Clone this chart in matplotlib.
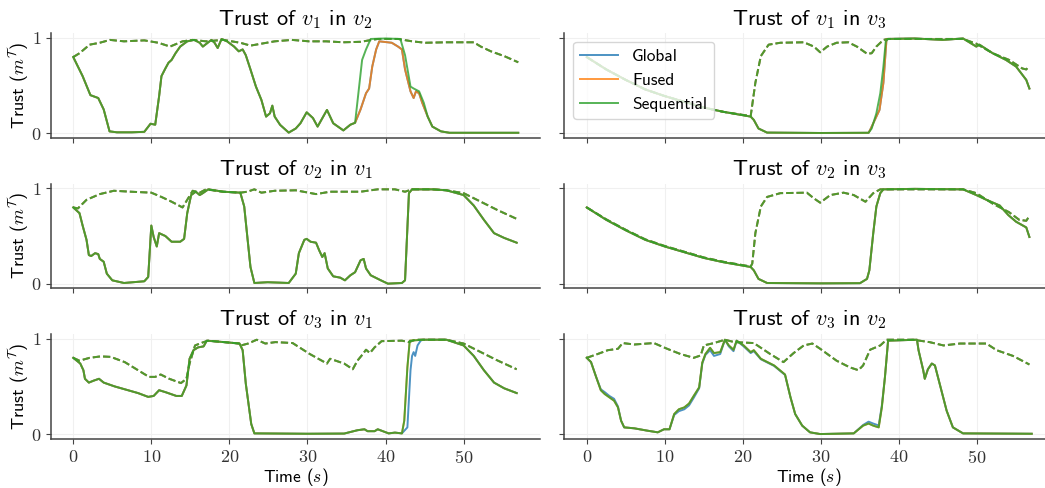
import matplotlib
matplotlib.use("Agg")
import matplotlib.pyplot as plt
from matplotlib.ticker import FuncFormatter

plt.rcParams["font.family"] = "cmss10"
plt.rcParams["mathtext.fontset"] = "cm"
plt.rcParams["axes.unicode_minus"] = False

SERIES = ["Global", "Fused", "Sequential"]
COLORS = ["#1f77b4", "#ff7f0e", "#2ca02c"]

# ---- trust of v1 in v2 ----
t12_head = [0, 1.2, 2.2, 3.2, 3.9, 4.65, 5.6, 7.5, 9.1, 9.9, 10.5, 11.0, 11.3, 11.8, 12.2,
            12.6, 13.1, 13.7, 14.6, 15.5, 16.2, 16.6, 17.3, 17.7, 18.1, 18.5, 19.0, 19.7,
            20.6, 21.2, 21.7, 22.1, 22.7, 23.4, 24.1, 24.7, 25.2, 25.5, 25.8, 26.5, 27.6,
            28.5, 29.1, 29.9, 30.7, 31.3, 32.5, 33.3, 34.6, 35.5, 36.1]
v12_head = [0.80, 0.60, 0.40, 0.37, 0.25, 0.02, 0.01, 0.01, 0.015, 0.10, 0.09, 0.39, 0.60,
            0.68, 0.74, 0.77, 0.84, 0.91, 0.965, 0.98, 0.95, 0.91, 0.955, 0.98, 0.95, 0.895,
            0.99, 0.965, 0.91, 0.86, 0.88, 0.82, 0.67, 0.49, 0.35, 0.175, 0.21, 0.29, 0.175,
            0.088, 0.007, 0.05, 0.105, 0.22, 0.16, 0.07, 0.245, 0.105, 0.03, 0.09, 0.11]
t12_seq_tail = [37.0, 37.5, 38.1, 40.0, 41.9, 42.5, 43.2, 43.6, 44.3, 44.9, 45.4, 46.0,
                47.1, 48.2, 52.0, 57.0]
v12_seq_tail = [0.77, 0.88, 0.99, 0.995, 0.99, 0.82, 0.49, 0.47, 0.44, 0.32, 0.175, 0.07,
                0.02, 0.005, 0.005, 0.005]
t12_gf_tail = [36.8, 37.5, 37.9, 38.3, 38.8, 39.2, 40.8, 41.6, 42.1, 42.5, 43.2, 43.6, 43.9,
               44.3, 44.7, 45.4, 46.0, 47.1, 48.2, 52.0, 57.0]
v12_gf_tail = [0.25, 0.42, 0.47, 0.70, 0.88, 0.965, 0.95, 0.91, 0.88, 0.67, 0.44, 0.37, 0.44,
               0.42, 0.32, 0.175, 0.07, 0.02, 0.005, 0.005, 0.005]
t12_dash = [0, 0.8, 2.1, 3.4, 4.7, 6.5, 9.1, 10.9, 12.4, 14.0, 15.3, 17.0, 19.2, 21.4, 22.7,
            25.8, 28.0, 30.2, 32.4, 34.6, 36.8, 39.0, 41.6, 43.4, 45.1, 47.8, 51.3, 52.2,
            53.5, 55.2, 57.0]
v12_dash = [0.80, 0.84, 0.93, 0.95, 0.98, 0.965, 0.975, 0.95, 0.91, 0.965, 0.98, 0.965, 0.98,
            0.95, 0.92, 0.965, 0.98, 0.965, 0.965, 0.955, 0.96, 0.99, 0.99, 0.965, 0.95,
            0.955, 0.955, 0.91, 0.86, 0.81, 0.745]

# ---- trust of v1 in v3 ----
t13_head = [0, 2.5, 5.0, 7.5, 10.0, 12.5, 15.0, 17.5, 21.0, 21.4, 22.0, 23.1, 30.0, 36.1]
v13_head = [0.80, 0.67, 0.56, 0.46, 0.39, 0.33, 0.27, 0.225, 0.175, 0.14, 0.05, 0.007, 0.003,
            0.005]
t13_seq_tail = [36.5, 37.1, 37.6, 38.0, 38.3, 38.6, 42.0, 45.6, 48.2, 49.9, 50.3, 52.0, 53.7,
                55.0, 56.3, 56.7]
v13_seq_tail = [0.05, 0.21, 0.42, 0.70, 0.965, 0.99, 0.995, 0.98, 0.995, 0.91, 0.93, 0.84,
                0.77, 0.70, 0.56, 0.47]
t13_gf_tail = [36.3, 36.9, 37.5, 38.0, 38.4, 42.0, 45.6, 48.2, 49.9, 50.3, 52.0, 53.7, 55.0,
               56.3, 56.7]
v13_gf_tail = [0.035, 0.14, 0.245, 0.53, 0.99, 0.995, 0.98, 0.995, 0.91, 0.93, 0.84, 0.77,
               0.70, 0.56, 0.47]
t13_dash = [0, 2.5, 5.0, 7.5, 10.0, 12.5, 15.0, 17.5, 21.0, 21.6, 22.3, 23.3, 24.8, 27.8,
            29.1, 29.9, 30.8, 32.0, 33.5, 34.6, 35.9, 36.5, 37.1, 38.0, 38.6, 48.2, 49.9,
            52.0, 54.1, 55.8, 56.3, 56.6]
v13_dash = [0.80, 0.67, 0.56, 0.46, 0.39, 0.33, 0.27, 0.225, 0.18, 0.53, 0.81, 0.93, 0.95,
            0.955, 0.91, 0.85, 0.91, 0.95, 0.955, 0.91, 0.835, 0.84, 0.91, 0.98, 0.99, 0.99,
            0.94, 0.84, 0.77, 0.68, 0.67, 0.70]

# ---- trust of v2 in v1 ----
t21 = [0, 0.8, 1.2, 1.7, 2.0, 2.3, 2.8, 3.2, 3.4, 3.9, 4.3, 5.0, 6.5, 9.1, 9.6, 10.0, 10.3,
       10.7, 11.0, 11.8, 12.6, 13.7, 14.2, 14.6, 15.1, 15.7, 16.2, 16.6, 17.3, 19.2, 21.4,
       21.9, 22.3, 22.7, 23.2, 24.9, 27.6, 28.5, 28.9, 29.6, 29.9, 30.4, 31.1, 31.5, 31.9,
       32.2, 32.6, 33.3, 34.2, 34.8, 35.5, 36.1, 36.8, 37.2, 37.5, 38.1, 39.4, 40.3, 42.1,
       42.5, 43.0, 43.4, 46.0, 47.8, 50.0, 51.3, 52.6, 53.9, 55.2, 56.8]
v21 = [0.80, 0.74, 0.61, 0.46, 0.30, 0.29, 0.32, 0.31, 0.26, 0.23, 0.105, 0.035, 0.007, 0.025,
       0.07, 0.61, 0.49, 0.39, 0.53, 0.50, 0.44, 0.44, 0.47, 0.74, 0.93, 0.965, 0.93, 0.95,
       0.99, 0.965, 0.955, 0.81, 0.49, 0.175, 0.007, 0.015, 0.007, 0.105, 0.32, 0.46, 0.47,
       0.44, 0.43, 0.35, 0.28, 0.32, 0.16, 0.077, 0.063, 0.035, 0.088, 0.12, 0.245, 0.26,
       0.16, 0.088, 0.035, 0.0, 0.007, 0.035, 0.95, 0.99, 0.99, 0.98, 0.93, 0.82, 0.67, 0.53,
       0.48, 0.43]
t21_dash = [0, 0.6, 1.7, 3.4, 5.2, 7.4, 10.0, 11.3, 12.6, 14.0, 14.6, 15.3, 16.2, 17.0, 19.2,
            21.4, 22.3, 23.2, 24.1, 25.8, 28.5, 31.1, 32.9, 36.8, 39.0, 41.2, 42.5, 43.4,
            46.0, 47.8, 50.0, 52.2, 54.4, 56.8]
v21_dash = [0.80, 0.79, 0.88, 0.94, 0.975, 0.965, 0.955, 0.91, 0.86, 0.80, 0.88, 0.975, 0.955,
            0.99, 0.965, 0.955, 0.965, 0.99, 0.955, 0.975, 0.98, 0.94, 0.965, 0.965, 0.99,
            0.99, 0.965, 0.99, 0.99, 0.98, 0.95, 0.86, 0.77, 0.68]

# ---- trust of v2 in v3 ----
t23 = [0, 2.5, 5.0, 7.5, 10.0, 12.5, 15.0, 17.5, 21.0, 21.4, 22.0, 23.1, 30.0, 35.0, 35.9,
       36.2, 36.7, 37.1, 37.6, 38.0, 42.0, 48.2, 49.9, 51.2, 52.9, 54.0, 55.0, 56.3, 56.7]
v23 = [0.80, 0.67, 0.56, 0.46, 0.39, 0.33, 0.27, 0.225, 0.175, 0.14, 0.05, 0.007, 0.003,
       0.005, 0.05, 0.14, 0.53, 0.81, 0.95, 0.99, 0.995, 0.99, 0.93, 0.88, 0.82, 0.72, 0.65,
       0.59, 0.49]
t23_dash = [0, 2.5, 5.0, 7.5, 10.0, 12.5, 15.0, 17.5, 21.0, 21.2, 21.6, 22.3, 23.1, 24.8,
            28.2, 29.1, 29.9, 31.2, 32.9, 34.2, 35.7, 36.7, 37.6, 48.2, 49.9, 52.0, 54.1,
            55.4, 56.3, 56.7]
v23_dash = [0.80, 0.675, 0.565, 0.465, 0.395, 0.335, 0.275, 0.23, 0.18, 0.21, 0.53, 0.81,
            0.91, 0.95, 0.955, 0.895, 0.85, 0.93, 0.955, 0.93, 0.86, 0.95, 0.99, 0.99, 0.95,
            0.84, 0.75, 0.67, 0.66, 0.71]

# ---- trust of v3 in v1 ----
t31_head = [0, 0.9, 1.3, 1.5, 2.0, 2.6, 3.3, 3.9, 5.3, 8.3, 9.6, 10.3, 11.0, 11.8, 13.2, 13.9,
            14.5, 14.9, 15.4, 16.0, 16.7, 17.1, 19.3, 21.3, 21.7, 22.1, 22.8, 23.2, 30.0,
            34.7, 36.4, 37.3, 37.7, 38.6, 39.0, 40.4, 41.2, 42.1]
v31_head = [0.80, 0.74, 0.67, 0.58, 0.54, 0.56, 0.58, 0.54, 0.50, 0.43, 0.39, 0.40, 0.46,
            0.44, 0.40, 0.40, 0.51, 0.79, 0.88, 0.91, 0.92, 0.98, 0.965, 0.95, 0.88, 0.53,
            0.105, 0.007, 0.003, 0.005, 0.04, 0.05, 0.03, 0.03, 0.05, 0.007, 0.015, 0.007]
t31_seq_tail = [42.4, 42.8, 43.1, 44.8, 47.8, 50.0, 51.3, 52.6, 53.9, 55.2, 56.8]
v31_seq_tail = [0.14, 0.70, 0.98, 0.99, 0.99, 0.93, 0.82, 0.67, 0.54, 0.48, 0.43]
t31_glob_tail = [42.8, 43.2, 43.4, 43.6, 43.8, 44.1, 44.5, 44.8, 47.8, 50.0, 51.3, 52.6, 53.9,
                 55.2, 56.8]
v31_glob_tail = [0.07, 0.67, 0.82, 0.86, 0.82, 0.93, 0.98, 0.99, 0.99, 0.93, 0.82, 0.67, 0.54,
                 0.48, 0.43]
t31_dash = [0, 0.8, 2.1, 3.5, 4.8, 6.6, 8.3, 9.7, 10.5, 11.2, 12.3, 13.8, 14.5, 14.9, 15.6,
            16.7, 17.3, 21.3, 21.5, 22.4, 23.5, 24.6, 25.9, 28.1, 30.3, 32.5, 32.9, 34.7,
            35.8, 36.4, 37.1, 37.5, 38.0, 38.6, 39.5, 42.1, 43.0, 43.8, 47.8, 50.0, 52.2,
            54.4, 56.8]
v31_dash = [0.80, 0.77, 0.80, 0.815, 0.81, 0.755, 0.67, 0.60, 0.60, 0.625, 0.58, 0.535, 0.58,
            0.74, 0.93, 0.965, 0.98, 0.95, 0.93, 0.95, 0.99, 0.95, 0.965, 0.955, 0.84, 0.74,
            0.79, 0.74, 0.68, 0.77, 0.84, 0.885, 0.85, 0.91, 0.975, 0.98, 0.965, 0.99, 0.99,
            0.95, 0.86, 0.77, 0.68]

# ---- trust of v3 in v2 ----
t32 = [0, 0.55, 1.2, 1.8, 2.3, 2.9, 3.5, 4.0, 4.4, 4.8, 6.1, 7.8, 9.1, 9.9, 10.6, 11.2, 11.8,
       12.5, 13.1, 13.7, 14.4, 14.8, 15.2, 15.8, 16.3, 17.1, 17.7, 18.2, 18.8, 19.2, 20.1,
       21.0, 21.4, 22.3, 24.0, 25.4, 26.1, 26.7, 27.6, 28.6, 29.9, 34.2, 35.4, 36.1, 36.7,
       37.4, 37.8, 38.2, 38.6, 42.3, 42.5, 43.1, 43.3, 43.7, 44.2, 44.6, 45.2, 46.1, 46.9,
       48.2, 57.0]
v32_seq = [0.80, 0.755, 0.60, 0.46, 0.42, 0.385, 0.35, 0.28, 0.14, 0.07, 0.06, 0.035, 0.018,
           0.05, 0.05, 0.21, 0.26, 0.28, 0.32, 0.40, 0.49, 0.75, 0.84, 0.905, 0.85, 0.86, 0.99,
           0.93, 0.885, 0.98, 0.93, 0.86, 0.88, 0.79, 0.72, 0.625, 0.385, 0.21, 0.088, 0.018,
           0.0, 0.007, 0.088, 0.11, 0.088, 0.07, 0.28, 0.60, 0.98, 0.99, 0.88, 0.67, 0.58, 0.68,
           0.74, 0.72, 0.53, 0.245, 0.07, 0.007, 0.003]
v32_glob = [0.80, 0.755, 0.60, 0.47, 0.44, 0.40, 0.37, 0.29, 0.14, 0.07, 0.06, 0.035, 0.018,
            0.05, 0.05, 0.20, 0.24, 0.26, 0.30, 0.38, 0.48, 0.74, 0.83, 0.88, 0.82, 0.84, 0.99,
            0.92, 0.87, 0.98, 0.92, 0.85, 0.87, 0.785, 0.715, 0.62, 0.385, 0.21, 0.088, 0.018,
            0.0, 0.007, 0.095, 0.13, 0.11, 0.09, 0.30, 0.60, 0.98, 0.99, 0.88, 0.67, 0.58, 0.68,
            0.74, 0.72, 0.53, 0.245, 0.07, 0.007, 0.003]
t32_dash = [0, 1.4, 2.7, 4.0, 4.6, 6.1, 8.6, 10.3, 12.0, 13.7, 14.6, 15.0, 16.3, 17.7, 18.9,
            21.4, 23.5, 25.2, 26.5, 27.8, 28.9, 29.9, 32.0, 33.7, 34.8, 35.4, 36.3, 37.6, 38.4,
            41.8, 43.9, 45.7, 47.8, 51.2, 52.5, 54.6, 56.7]
v32_dash = [0.80, 0.84, 0.88, 0.895, 0.955, 0.94, 0.955, 0.895, 0.84, 0.80, 0.825, 0.93, 0.955,
            0.99, 0.965, 0.955, 0.84, 0.755, 0.85, 0.93, 0.95, 0.895, 0.77, 0.70, 0.67, 0.72,
            0.885, 0.93, 0.99, 0.99, 0.965, 0.93, 0.95, 0.95, 0.88, 0.82, 0.73]

# per panel: title, solid (t, v) for Global / Fused / Sequential, dashed (t, v)
s12_gf = (t12_head + t12_gf_tail, v12_head + v12_gf_tail)
s12_seq = (t12_head + t12_seq_tail, v12_head + v12_seq_tail)
s13_gf = (t13_head + t13_gf_tail, v13_head + v13_gf_tail)
s13_seq = (t13_head + t13_seq_tail, v13_head + v13_seq_tail)
s31_glob = (t31_head + t31_glob_tail, v31_head + v31_glob_tail)
s31_seq = (t31_head + t31_seq_tail, v31_head + v31_seq_tail)

panels = [
    (r"Trust of $v_1$ in $v_2$", [s12_gf, s12_gf, s12_seq], (t12_dash, v12_dash)),
    (r"Trust of $v_1$ in $v_3$", [s13_gf, s13_gf, s13_seq], (t13_dash, v13_dash)),
    (r"Trust of $v_2$ in $v_1$", [(t21, v21)] * 3, (t21_dash, v21_dash)),
    (r"Trust of $v_2$ in $v_3$", [(t23, v23)] * 3, (t23_dash, v23_dash)),
    (r"Trust of $v_3$ in $v_1$", [s31_glob, s31_seq, s31_seq], (t31_dash, v31_dash)),
    (r"Trust of $v_3$ in $v_2$", [(t32, v32_glob), (t32, v32_seq), (t32, v32_seq)],
     (t32_dash, v32_dash)),
]

fig, axs = plt.subplots(3, 2, sharex=True, sharey=True, figsize=(10.45, 4.88), dpi=100)
fig.subplots_adjust(left=0.0488, right=1.0086, top=0.9319, bottom=0.1008,
                    wspace=0.049, hspace=0.435)

math_fmt = FuncFormatter(lambda x, _: r"$\mathrm{%d}$" % round(x))

for ax, (title, solids, dashed) in zip(axs.flat, panels):
    for name, color, (t, v) in zip(SERIES, COLORS, solids):
        ax.plot(t, v, color=color, lw=1.4, alpha=0.8, label=name)
        ax.plot(dashed[0], dashed[1], color=color, lw=1.4, alpha=0.8, ls="--")
    ax.set_title(title, fontsize=16, pad=6)
    ax.grid(True, color="#f0f0f0", lw=0.8)
    for side in ["top", "right"]:
        ax.spines[side].set_visible(False)
    for side in ["left", "bottom"]:
        ax.spines[side].set_color("#444444")
        ax.spines[side].set_linewidth(1.1)
    ax.tick_params(length=3.5, color="#444444", labelsize=13, labelcolor="#333333")
    ax.xaxis.set_major_formatter(math_fmt)
    ax.yaxis.set_major_formatter(math_fmt)

axs[0, 0].set_ylim(-0.05, 1.05)
axs[0, 0].set_yticks([0, 1])
axs[0, 0].set_xticks([0, 10, 20, 30, 40, 50])

for ax in axs[:, 0]:
    ax.set_ylabel(r"Trust ($m^{\mathcal{T}}$)", fontsize=13, labelpad=0)
for ax in axs[-1, :]:
    ax.set_xlabel(r"Time ($s$)", fontsize=12.5, labelpad=0)

axs[0, 1].legend(loc="upper left", fontsize=12.5, framealpha=0.8, handlelength=2.2)

fig.savefig("out.png", dpi=100)
